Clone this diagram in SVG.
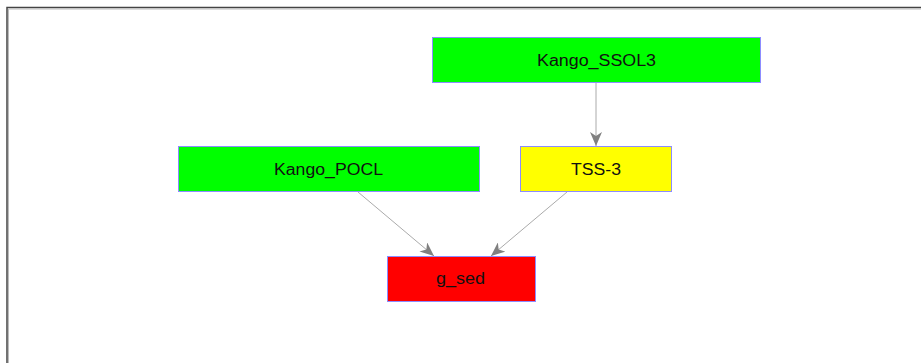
<svg xmlns="http://www.w3.org/2000/svg" width="921" height="363" viewBox="0 0 921 363">
<style>
.node rect{stroke:#8c8cff;stroke-width:1}
.node text{font-family:"Liberation Sans",Arial,sans-serif;font-size:16px;fill:#111;text-anchor:middle}
.edge{stroke:#aaaaaa;stroke-width:1;fill:none;marker-end:url(#arr)}
</style>
<defs>
<marker id="arr" markerWidth="14" markerHeight="12" refX="14" refY="6" orient="auto" markerUnits="userSpaceOnUse">
<path d="M0,0 L14,6 L0,12 L4,6 Z" fill="#808080"/>
</marker>
</defs>
<rect x="0" y="0" width="921" height="363" fill="#fff"/>
<path d="M7,363 V7.5 H921" fill="none" stroke="#444" stroke-width="1.5"/>
<path d="M8.5,363 V9 H921" fill="none" stroke="#bbb" stroke-width="1"/>
<g id="connectors">
<line class="edge" x1="596" y1="82" x2="596" y2="146"/>
<line class="edge" x1="358" y1="192" x2="434" y2="256"/>
<line class="edge" x1="567" y1="192" x2="491" y2="256"/>
</g>
<g id="Kango_SSOL3" class="node"><rect x="432.5" y="37.5" width="328" height="45" fill="#00ff00"/><text x="596.5" y="66" textLength="119" lengthAdjust="spacingAndGlyphs">Kango_SSOL3</text></g>
<g id="Kango_POCL" class="node"><rect x="178.5" y="146.5" width="301" height="45" fill="#00ff00"/><text x="328.5" y="175" textLength="109" lengthAdjust="spacingAndGlyphs">Kango_POCL</text></g>
<g id="TSS-3" class="node"><rect x="520.5" y="146.5" width="151" height="45" fill="#ffff00"/><text x="596" y="175" textLength="50" lengthAdjust="spacingAndGlyphs">TSS-3</text></g>
<g id="g_sed" class="node"><rect x="387.5" y="256.5" width="148" height="45" fill="#ff0000"/><text x="460.5" y="284" textLength="49" lengthAdjust="spacingAndGlyphs">g_sed</text></g>
</svg>
